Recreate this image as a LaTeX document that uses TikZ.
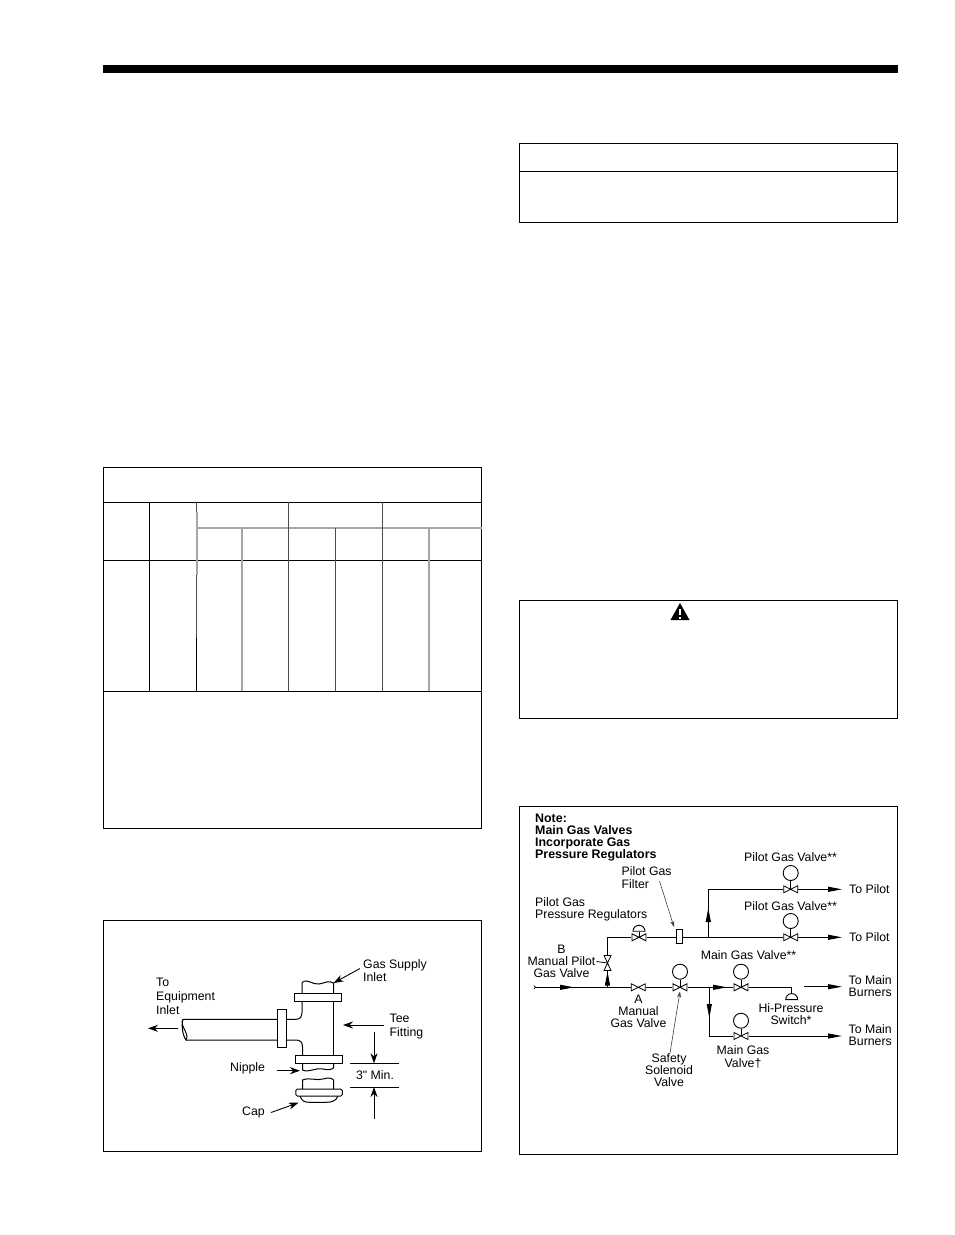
\documentclass[tikz,border=0pt]{standalone}
\usepackage{fontspec}
\setmainfont{Liberation Sans}[Ligatures=TeXOff]
\usetikzlibrary{arrows.meta,shapes.geometric}
\tikzset{
    frame/.style={draw,line width=.85pt},
    tbl/.style={line width=.85pt},
    tblgray/.style={line width=2pt,black!35},
    tbldark/.style={line width=1pt,black!70},
    txt/.style={font=\fontsize{12.3}{12}\selectfont,inner sep=0pt,text height=8.8pt,text depth=0pt},
    notetxt/.style={txt,anchor=west,font=\fontsize{12.4}{12}\selectfont\bfseries},
    valve/.style={minimum width=15pt,minimum height=8pt,inner sep=0pt,fill=white,
        path picture={\draw[line width=.8pt]
            ([xshift=.5pt,yshift=-.5pt]path picture bounding box.north west)
            -- ([xshift=-.5pt,yshift=.5pt]path picture bounding box.south east)
            -- ([xshift=-.5pt,yshift=-.5pt]path picture bounding box.north east)
            -- ([xshift=.5pt,yshift=.5pt]path picture bounding box.south west) -- cycle;}},
    valveup/.style={minimum width=8pt,minimum height=16pt,inner sep=0pt,fill=white,
        path picture={\draw[line width=.8pt]
            ([xshift=.5pt,yshift=-.5pt]path picture bounding box.north west)
            -- ([xshift=-.5pt,yshift=-.5pt]path picture bounding box.north east)
            -- ([xshift=.5pt,yshift=.5pt]path picture bounding box.south west)
            -- ([xshift=-.5pt,yshift=.5pt]path picture bounding box.south east) -- cycle;}},
    gauge/.style={circle,draw,line width=.9pt,fill=white,minimum size=15pt,inner sep=0pt},
    dome/.style={semicircle,draw,line width=.9pt,fill=white,minimum width=12pt,minimum height=6pt,inner sep=0pt,anchor=chord center},
    pipe/.style={line width=1pt},
    flow/.style={line width=1pt,-{Triangle[length=14pt,width=5pt]}},
    leader/.style={line width=.6pt,black!75,-{Stealth[length=6pt,width=4pt]}},
    callout/.style={line width=.9pt,-{Stealth[length=10pt,width=7pt]}},
    fit/.style={line width=1pt},
    flange/.style={draw,line width=1pt,fill=white,inner sep=0pt},
}
\begin{document}
\begin{tikzpicture}[x=1pt,y=-1pt]
    \useasboundingbox (0,0) rectangle (954,1235);
    \fill[white] (0,0) rectangle (954,1235);
    \fill (103,65) rectangle (898,73);
    % page boxes
    \draw[frame] (519,143) rectangle (897,222);
    \draw[frame] (519,171) -- (897,171);
    \draw[frame] (519,600) rectangle (897,718);
    \fill (680,603) -- (689.5,620) -- (670.5,620) -- cycle;
    \fill[white] (679,609) rectangle (681,615);
    \fill[white] (679,616.5) rectangle (681,618.5);
    % table
    \draw[frame] (103.5,467) rectangle (481.5,828);
    \foreach \yy in {502,560,691} \draw[tbl] (103.5,\yy) -- (481.5,\yy);
    \draw[tbl] (149.5,502) -- (149.5,691);
    \draw[tbl] (196.5,638) -- (196.5,691);
    \draw[tbldark] (196.5,502) -- (196.5,512);
    \draw[tbldark] (196.5,575) -- (196.5,638);
    \draw[tblgray] (196.5,512) -- (196.5,575);
    \draw[tblgray] (196.5,528) -- (481.5,528);
    \foreach \xx in {288.5,382.5} \draw[tbldark] (\xx,502) -- (\xx,691);
    \draw[tbldark] (335,528) -- (335,691);
    \foreach \xx in {241.5,429} \draw[tblgray] (\xx,528) -- (\xx,691);
    % tee figure
    \draw[frame] (103.5,920) rectangle (481.5,1151);
    \draw[fit] (302,994) -- (302,1012) .. controls (302,1017) and (300,1019.3) .. (296,1019.3) -- (183,1019.3)
        .. controls (179,1026) and (190,1033) .. (186,1040) .. controls (183,1036) and (181,1026) .. (183,1019.3);
    \draw[fit] (186,1040) -- (296,1040) .. controls (300,1040) and (302.5,1042) .. (302.5,1047) -- (302.5,1056);
    \draw[fit] (333.5,994) -- (333.5,1056);
    \draw[fit] (302,994) -- (302,982.5) .. controls (308,978) and (312,985) .. (319,984) .. controls (325,983) and (329,980) .. (333.5,983) -- (333.5,994);
    \draw[fit] (302.5,1063) -- (302.5,1070) .. controls (310,1073) and (316,1067) .. (323,1069) .. controls (327,1070) and (331,1070) .. (333.5,1068) -- (333.5,1063);
    \draw[fit] (302.5,1090) -- (302.5,1080) .. controls (310,1077) and (316,1081) .. (323,1079) .. controls (327,1078) and (331,1077) .. (333.5,1080) -- (333.5,1090);
    \draw[fit] (300,1096) .. controls (302,1101) and (304,1102.3) .. (310,1102.3) -- (326,1102.3) .. controls (332,1102.3) and (336,1101) .. (338,1096);
    \node[flange,minimum width=9.5pt,minimum height=38pt] (teeoutlet) at (282,1028.3) {};
    \node[flange,minimum width=47.5pt,minimum height=8.5pt] (teetop) at (318,997.5) {};
    \node[flange,minimum width=46.5pt,minimum height=8.5pt] (teelow) at (319,1059.5) {};
    \node[flange,rounded corners=1.5pt,minimum width=46.5pt,minimum height=7pt] (teecap) at (319,1092.5) {};
    \node[txt,anchor=west] (lblto) at (156,982.5) {To};
    \node[txt,anchor=west] (lblequip) at (156,996) {Equipment};
    \node[txt,anchor=west] (lblinlet) at (156,1010) {Inlet};
    \node[txt,anchor=west] (lblsupply) at (363,964.5) {Gas Supply};
    \node[txt,anchor=west] (lblsupply2) at (363,977.5) {Inlet};
    \node[txt,anchor=west] (lbltee) at (389.5,1018.5) {Tee};
    \node[txt,anchor=west] (lblfitting) at (389.5,1032) {Fitting};
    \node[txt,anchor=west] (lblnipple) at (230,1067.5) {Nipple};
    \node[txt,anchor=west] (lblcap) at (242,1111) {Cap};
    \node[txt] (lblmin) at (375,1075) {3" Min.};
    \coordinate (outA) at (178,1028.3);
    \coordinate (outB) at (148,1028.3);
    \coordinate (supA) at (360,968.5);
    \coordinate (supB) at (333.5,983);
    \coordinate (teeA) at (384,1025);
    \coordinate (teeB) at (343,1025);
    \coordinate (nipA) at (276.5,1070.7);
    \coordinate (nipB) at (300,1070.7);
    \coordinate (capA) at (271,1112.5);
    \coordinate (capB) at (298.5,1102.7);
    \coordinate (dimA) at (374,1031.5);
    \coordinate (dimB) at (374,1063.3);
    \coordinate (dimC) at (374,1118.5);
    \coordinate (dimD) at (374,1087);
    \draw[callout] (outA) -- (outB);
    \draw[callout] (supA) -- (supB);
    \draw[callout] (teeA) -- (teeB);
    \draw[callout] (nipA) -- (nipB);
    \draw[callout] (capA) -- (capB);
    \draw[callout] (dimA) -- (dimB);
    \draw[callout] (dimC) -- (dimD);
    \draw[line width=.9pt] (350,1063.3) -- (398.5,1063.3);
    \draw[line width=.9pt] (350,1087) -- (398.5,1087);
    % piping figure
    \draw[frame] (519,806) rectangle (897,1154);
    \node[notetxt] (note1) at (535,818) {Note:};
    \node[notetxt] (note2) at (535,830.5) {Main Gas Valves};
    \node[notetxt] (note3) at (535,842.5) {Incorporate Gas};
    \node[notetxt] (note4) at (535,854.5) {Pressure Regulators};
    \node[valve] (vpilotA) at (790.7,889.3) {};
    \node[valve] (vpilotB) at (790.7,937.3) {};
    \node[valve] (vreg) at (639,937.3) {};
    \node[valveup] (vmanB) at (607.5,963) {};
    \node[valve] (vmanA) at (638.3,987.3) {};
    \node[valve] (vsafe) at (680,987.3) {};
    \node[valve] (vmainA) at (741,987.3) {};
    \node[valve] (vmainB) at (741,1036) {};
    \node[gauge] (gpilotA) at (790.7,873) {};
    \node[gauge] (gpilotB) at (790.7,921) {};
    \node[gauge] (gsafe) at (680,971.7) {};
    \node[gauge] (gmainA) at (741,971.7) {};
    \node[gauge] (gmainB) at (741,1020.7) {};
    \node[dome] (dreg) at (639,931.7) {};
    \node[dome] (dswitch) at (791.7,1000) {};
    \node[draw,line width=.9pt,fill=white,minimum width=6pt,minimum height=14pt,inner sep=0pt] (filter) at (679.5,936.5) {};
    \coordinate (inlet) at (535,987.3);
    \coordinate (teeB1) at (607.5,987.3);
    \coordinate (teeP) at (708.3,937.3);
    \coordinate (cornerP) at (708.3,889.3);
    \coordinate (cornerB) at (607.5,937.3);
    \coordinate (teeM) at (709.3,987.3);
    \coordinate (cornerM) at (709.3,1036);
    \coordinate (cornerS) at (791.7,987.3);
    \coordinate (endA) at (842,889.3);
    \coordinate (endB) at (842,937.3);
    \coordinate (endC) at (842,1036);
    \coordinate (freeA) at (804,986.7);
    \coordinate (freeB) at (842,986.7);
    \draw[pipe] (inlet) -- (vmanA);
    \draw[pipe] (vmanA) -- (vsafe);
    \draw[pipe] (vsafe) -- (vmainA);
    \draw[pipe] (vmainA) -- (cornerS) -- (dswitch);
    \draw[pipe] (teeB1) -- (vmanB);
    \draw[pipe] (vmanB) -- (cornerB) -- (vreg);
    \draw[pipe] (vreg) -- (vreg -| filter.west);
    \draw[pipe] (filter.east |- vpilotB) -- (vpilotB);
    \draw[pipe] (teeP) -- (cornerP) -- (vpilotA);
    \draw[pipe] (teeM) -- (cornerM) -- (vmainB);
    \draw[line width=.7pt] (534,985.5) .. controls (536,986) and (536,988.5) .. (534,989);
    \draw[flow] (vpilotA) -- (endA);
    \draw[flow] (vpilotB) -- (endB);
    \draw[flow] (vmainB) -- (endC);
    \draw[flow] (freeA) -- (freeB);
    \foreach \g/\v in {gpilotA/vpilotA,gpilotB/vpilotB,gsafe/vsafe,gmainA/vmainA,gmainB/vmainB}
        \draw[line width=.9pt] (\g) -- (\v.center);
    \draw[line width=.9pt] (dreg.chord center) -- (vreg.center);
    % flow arrows on the pipes
    \coordinate (inletA) at (559,987.3);
    \coordinate (inletB) at (574,987.3);
    \coordinate (riseA) at (607.5,986);
    \coordinate (riseB) at (607.5,971.5);
    \coordinate (upA) at (708.3,922);
    \coordinate (upB) at (708.3,908);
    \coordinate (mainA) at (713,987.3);
    \coordinate (mainB) at (727,987.3);
    \coordinate (downA) at (709.3,1004);
    \coordinate (downB) at (709.3,1018);
    \foreach \a/\b in {inletA/inletB,riseA/riseB,upA/upB,mainA/mainB,downA/downB}
        \draw[flow] (\a) -- (\b);
    \node[txt] (lblpgvA) at (790.5,857.5) {Pilot Gas Valve**};
    \node[txt] (lblpgvB) at (790.5,906.5) {Pilot Gas Valve**};
    \node[txt,anchor=west] (lbltpA) at (849,889) {To Pilot};
    \node[txt,anchor=west] (lbltpB) at (849,937) {To Pilot};
    \node[txt,anchor=west] (lblfil) at (621.5,871.5) {Pilot Gas};
    \node[txt,anchor=west] (lblfil2) at (621.5,884) {Filter};
    \node[txt,anchor=west] (lblreg) at (535,902) {Pilot Gas};
    \node[txt,anchor=west] (lblreg2) at (535,914) {Pressure Regulators};
    \node[txt] (lblB) at (561.5,949) {B};
    \node[txt] (lblB2) at (561.5,961) {Manual Pilot};
    \node[txt] (lblB3) at (561.5,973.5) {Gas Valve};
    \node[txt] (lblmgv) at (748.5,955) {Main Gas Valve**};
    \node[txt,anchor=west] (lbltmA) at (848.5,980.5) {To Main};
    \node[txt,anchor=west] (lbltmA2) at (848.5,992.5) {Burners};
    \node[txt,anchor=west] (lbltmB) at (848.5,1029.5) {To Main};
    \node[txt,anchor=west] (lbltmB2) at (848.5,1041.5) {Burners};
    \node[txt] (lblA) at (638.5,999.5) {A};
    \node[txt] (lblA2) at (638.5,1011.5) {Manual};
    \node[txt] (lblA3) at (638.5,1023.5) {Gas Valve};
    \node[txt] (lblhi) at (791,1008.5) {Hi-Pressure};
    \node[txt] (lblhi2) at (791,1020.5) {Switch*};
    \node[txt] (lblmv) at (743,1050) {Main Gas};
    \node[txt] (lblmv2) at (743,1063) {Valve†};
    \node[txt] (lblss) at (669,1058.5) {Safety};
    \node[txt] (lblss2) at (669,1070.5) {Solenoid};
    \node[txt] (lblss3) at (669,1082.5) {Valve};
    \coordinate (tickB) at (596.5,961.5);
    \coordinate (filA) at (659.5,881);
    \coordinate (filB) at (674,927);
    \coordinate (safA) at (670,1053);
    \draw[line width=.8pt] (tickB) -- (vmanB.center);
    \draw[leader] (filA) -- (filB);
    \draw[leader] (safA) -- (vsafe.south);
\end{tikzpicture}
\end{document}
